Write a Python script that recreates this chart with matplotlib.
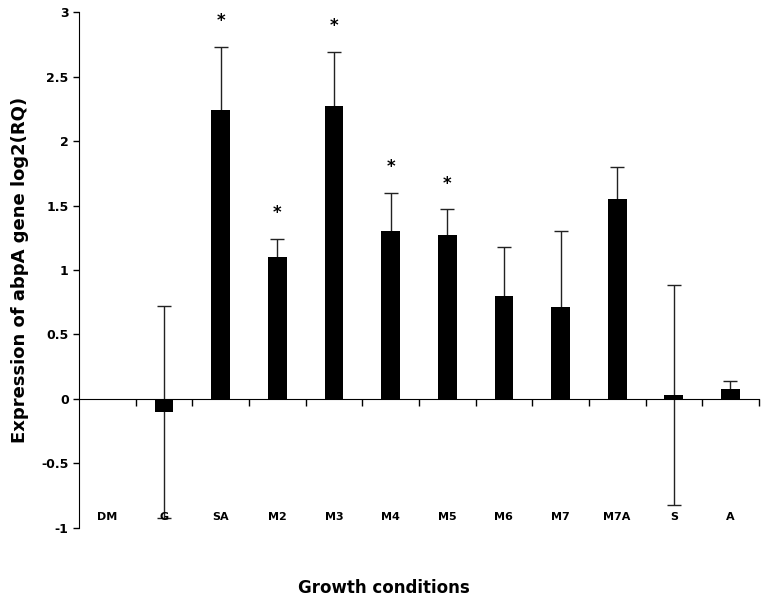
import numpy as np
import matplotlib
matplotlib.use('Agg')
import matplotlib.pyplot as plt
from matplotlib.ticker import FuncFormatter, FixedLocator
import matplotlib.transforms as mtransforms

plt.rcParams['font.family'] = ['DejaVu Sans']

conditions = ['DM', 'G', 'SA', 'M2', 'M3', 'M4', 'M5', 'M6', 'M7', 'M7A', 'S', 'A']
rq_log2 = [0.0, -0.10, 2.24, 1.10, 2.27, 1.30, 1.27, 0.80, 0.71, 1.55, 0.03, 0.08]
err = [0.0, 0.82, 0.49, 0.14, 0.42, 0.30, 0.20, 0.38, 0.59, 0.25, 0.85, 0.06]
signif = [False, False, True, True, True, True, True, False, False, False, False, False]

fig = plt.figure(figsize=(7.68, 6.04), dpi=100)
ax = fig.add_axes([0.103, 0.126, 0.885, 0.854])

x = np.arange(len(conditions))
ax.bar(x, rq_log2, width=0.33, color='black', zorder=2)
# skip the control (no error)
has_err = np.array(err) > 0
ax.errorbar(x[has_err], np.array(rq_log2)[has_err], yerr=np.array(err)[has_err],
            fmt='none', ecolor='#222222', elinewidth=1,
            capsize=5, capthick=1, zorder=1)

for xi, v, e, s in zip(x, rq_log2, err, signif):
    if s:
        ax.text(xi, v + e + 0.13, '*', ha='center', va='bottom', fontsize=12,
                fontweight='bold')

ax.set_xlim(-0.5, len(conditions) - 0.5)
ax.set_ylim(-1, 3)
ax.set_yticks(np.arange(-1, 3.01, 0.5))
ax.yaxis.set_major_formatter(FuncFormatter(lambda v, p: '%g' % v))
ax.tick_params(axis='y', direction='out', length=4, labelsize=9, width=1)
for lab in ax.get_yticklabels():
    lab.set_fontweight('bold')

ax.spines['top'].set_visible(False)
ax.spines['right'].set_visible(False)
ax.spines['bottom'].set_position(('data', 0))
ax.xaxis.set_major_locator(FixedLocator(np.arange(0.5, len(conditions), 1.0)))
ax.set_xticklabels([])
ax.tick_params(axis='x', direction='out', length=5, width=1)

trans = mtransforms.blended_transform_factory(ax.transData, ax.transAxes)
for xi, name in zip(x, conditions):
    ax.text(xi, 0.021, name, transform=trans, ha='center', va='center',
            fontsize=8, fontweight='bold')

ax.set_ylabel('Expression of abpA gene log2(RQ)', fontsize=13, fontweight='bold',
              labelpad=9)
fig.text(0.5, 0.027, 'Growth conditions', ha='center', va='center',
         fontsize=12, fontweight='bold')

fig.savefig('out.png', dpi=100)
